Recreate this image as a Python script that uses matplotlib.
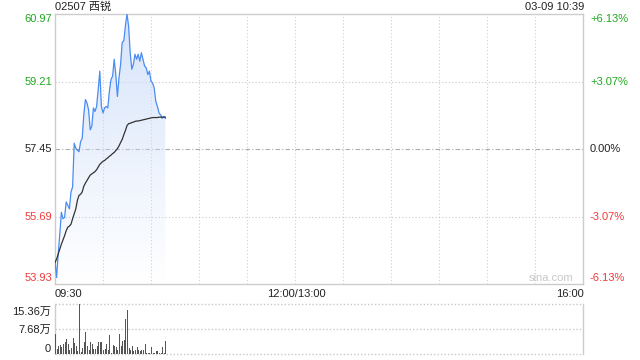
import numpy as np
import matplotlib
matplotlib.use("Agg")
import matplotlib.pyplot as plt
from matplotlib.patches import Polygon

plt.rcParams['font.family'] = ['Liberation Sans', 'Noto Sans CJK SC', 'DejaVu Sans']

titulo = "02507 西锐"
data_hora = "03-09 10:39"
preco_base = 57.45
niveis_preco = [60.97, 59.21, 57.45, 55.69, 53.93]
niveis_pct = ["+6.13%", "+3.07%", "0.00%", "-3.07%", "-6.13%"]
rotulos_tempo = ["09:30", "12:00/13:00", "16:00"]
niveis_vol = [15.36, 7.68, 0]
rotulos_vol = ["15.36万", "7.68万", "0"]

# minutos desde 09:30
minutos = list(range(70))

preco = [54.53, 54.10, 54.71, 55.23, 55.80, 55.63, 55.67, 56.07, 55.98, 55.89,
         56.33, 56.46, 57.60, 57.47, 57.42, 57.38, 57.64, 57.73, 58.34, 58.74,
         58.65, 58.47, 57.95, 58.04, 58.52, 58.43, 58.56, 59.00, 59.48, 58.56,
         58.39, 58.52, 58.56, 58.52, 58.96, 59.26, 59.35, 59.79, 59.39, 58.82,
         59.31, 59.66, 60.23, 60.27, 60.66, 60.97, 60.66, 59.96, 59.53, 59.66,
         59.92, 59.79, 59.92, 59.74, 59.96, 59.79, 59.61, 59.57, 59.39, 59.48,
         59.22, 59.17, 59.04, 58.69, 58.56, 58.39, 58.34, 58.25, 58.30, 58.25]

media = [54.49, 54.58, 54.71, 54.84, 54.97, 55.08, 55.19, 55.32, 55.41, 55.44,
         55.49, 55.63, 55.76, 55.89, 56.11, 56.24, 56.27, 56.33, 56.48, 56.56,
         56.63, 56.70, 56.77, 56.80, 56.83, 56.86, 56.91, 56.98, 57.05, 57.09,
         57.13, 57.15, 57.19, 57.22, 57.26, 57.29, 57.33, 57.36, 57.41, 57.46,
         57.53, 57.62, 57.70, 57.82, 57.93, 58.06, 58.11, 58.12, 58.14, 58.15,
         58.17, 58.18, 58.18, 58.19, 58.20, 58.21, 58.22, 58.23, 58.24, 58.25,
         58.26, 58.27, 58.27, 58.27, 58.27, 58.28, 58.28, 58.28, 58.28, 58.28]

# volume em 万
volume = [6.0, 1.5, 2.4, 2.9, 2.1, 3.1, 3.6, 4.6, 3.2, 1.1,
          1.9, 4.9, 3.4, 2.4, 0.8, 15.36, 0.5, 1.9, 3.6, 6.7,
          2.4, 1.3, 3.8, 3.1, 1.5, 1.5, 2.4, 3.8, 3.8, 3.8,
          1.1, 1.5, 3.0, 1.3, 5.7, 0.3, 2.9, 2.6, 2.1, 1.3,
          6.0, 2.4, 3.9, 4.2, 10.6, 13.4, 1.9, 1.3, 2.6, 0.8,
          1.3, 2.2, 1.1, 0.8, 1.1, 1.3, 3.2, 0.2, 0.2, 0.3,
          2.3, 0.2, 0.2, 1.0, 1.0, 0.2, 0.3, 2.1, 0.2, 3.9]

W, H = 640, 360
verde = "#1fa81f"
vermelho = "#f03a3a"
cinza_borda = "#cccccc"

fig = plt.figure(figsize=(6.4, 3.6), dpi=100)

def px(x, y):
    return x / W, 1 - y / H

# painel de preço
ax = fig.add_axes([55 / W, (H - 284) / H, 528 / W, 270 / H])
ymin, ymax = niveis_preco[-1], niveis_preco[0]
ax.set_xlim(0, 330)
ax.set_ylim(ymin, ymax)
ax.set_xticks([])
ax.set_yticks([])
for s in ax.spines.values():
    s.set_color(cinza_borda)
    s.set_linewidth(1)

for t in range(30, 330, 30):
    ax.axvline(t, color="#d0d0d0", lw=0.8, ls=(0, (1, 2)), zorder=1)
for nv in [niveis_preco[1], niveis_preco[3]]:
    ax.axhline(nv, color="#c8c8c8", lw=0.8, ls=(0, (1, 2)), zorder=1)
ax.axhline(preco_base, color="#aaaaaa", lw=0.8, ls=(0, (4, 2, 1, 2)), zorder=1)

# preenchimento em degradê sob a linha de preço
verts = [(minutos[0], ymin)] + list(zip(minutos, preco)) + [(minutos[-1], ymin)]
area = Polygon(verts, closed=True, facecolor="none", edgecolor="none")
ax.add_patch(area)
grad = np.zeros((256, 1, 4))
grad[:, 0, 0] = 0.80
grad[:, 0, 1] = 0.87
grad[:, 0, 2] = 0.98
grad[:, 0, 3] = np.linspace(0.0, 0.8, 256)
img = ax.imshow(grad, extent=[0, 330, ymin, ymax], aspect="auto",
                origin="lower", zorder=2)
img.set_clip_path(area)

ax.plot(minutos, preco, color="#4a8cf2", lw=0.9, zorder=4)
ax.plot(minutos, media, color="#333333", lw=0.9, zorder=4)

# painel de volume
axv = fig.add_axes([55 / W, (H - 354) / H, 528 / W, 50 / H])
axv.set_xlim(0, 330)
axv.set_ylim(0, niveis_vol[0])
axv.set_xticks([])
axv.set_yticks([])
for lado in ["top", "bottom"]:
    axv.spines[lado].set_visible(False)
for lado in ["left", "right"]:
    axv.spines[lado].set_color(cinza_borda)
    axv.spines[lado].set_linewidth(1)
for nv in niveis_vol:
    axv.axhline(nv, color="#c8c8c8", lw=1.0, ls=(0, (1, 1.5)), zorder=1, clip_on=False)
axv.vlines(minutos, 0, volume, colors="#555555", lw=0.72, zorder=3,
           antialiased=False)

# textos
fs = 8
fig.text(*px(55, 7), titulo, fontsize=fs, color="#222222", ha="left", va="center")
fig.text(*px(584, 7), data_hora, fontsize=fs, color="#222222", ha="right", va="center")

ys_preco = [19, 82, 149, 217, 278]
cores = [verde, verde, "#222222", vermelho, vermelho]
for nv, y, c, p in zip(niveis_preco, ys_preco, cores, niveis_pct):
    fig.text(*px(52, y), f"{nv:.2f}", fontsize=fs, color=c, ha="right", va="center")
    fig.text(*px(590, y), p, fontsize=fs, color=c, ha="left", va="center")

fig.text(*px(55, 294), rotulos_tempo[0], fontsize=fs, color="#222222", ha="left", va="center")
fig.text(*px(296, 294), rotulos_tempo[1], fontsize=fs, color="#222222", ha="center", va="center")
fig.text(*px(584, 294), rotulos_tempo[2], fontsize=fs, color="#222222", ha="right", va="center")

for rot, y in zip(rotulos_vol, [312, 330, 349]):
    fig.text(*px(51, y), rot, fontsize=fs, color="#222222", ha="right", va="center")

fig.text(*px(573, 278), "sina.com", fontsize=fs, color="#c8c8c8", ha="right", va="center")

fig.savefig("out.png", dpi=100)
plt.close()
